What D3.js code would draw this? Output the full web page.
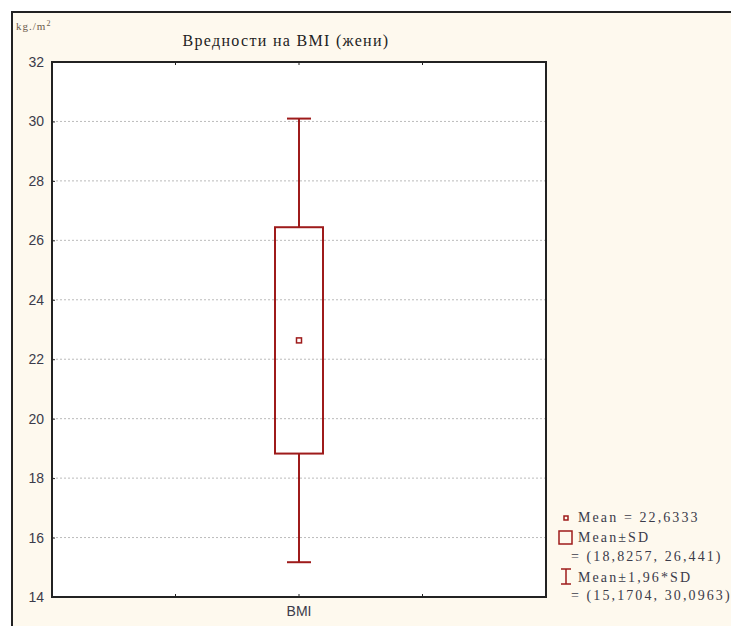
<!DOCTYPE html>
<html lang="bg">
<head>
  <meta charset="UTF-8">
  <title>Вредности на BMI (жени)</title>
  <script src="https://d3js.org/d3.v7.min.js"></script>
  <style>
    body { margin: 0; background: #fff; overflow: hidden; }
    svg { display: block; }
    .grid-line { stroke: #bbb; stroke-width: 1; stroke-dasharray: 2,2; }
  </style>
</head>
<body>
<script>
  // Data
  const categories = ['BMI'];
  const mean = [22.6333];
  const sdLow = [18.8257];
  const sdHigh = [26.441];
  const ciLow = [15.1704];
  const ciHigh = [30.0963];
  const yTicks = [14, 16, 18, 20, 22, 24, 26, 28, 30, 32];

  const W = 731, H = 626;
  const plot = {left: 52, right: 546, top: 62, bottom: 597};
  const red = '#9e1b1b';
  const textCol = '#3b3b4a';

  const svg = d3.select('body').append('svg')
    .attr('width', W)
    .attr('height', H);

  // outer panel: only top and left edges are inside the picture
  svg.append('rect')
    .attr('x', 12).attr('y', 12)
    .attr('width', W - 12).attr('height', H - 12)
    .attr('fill', '#fef9ee');
  svg.append('path')
    .attr('d', `M12,${H}V12H${W}`)
    .attr('fill', 'none')
    .attr('stroke', '#222').attr('stroke-width', 2);

  const y = d3.scaleLinear().domain([14, 32]).range([plot.bottom, plot.top]);
  const x = d3.scaleBand().domain(categories).range([plot.left, plot.right]);

  svg.append('rect')
    .attr('x', plot.left).attr('y', plot.top)
    .attr('width', plot.right - plot.left).attr('height', plot.bottom - plot.top)
    .attr('fill', '#fff');

  // grid lines
  svg.selectAll('.grid-line')
    .data(yTicks.filter(d => d > 14 && d < 32))
    .join('line')
    .attr('class', 'grid-line')
    .attr('x1', plot.left).attr('x2', plot.right)
    .attr('y1', d => y(d)).attr('y2', d => y(d));

  // y axis
  const yAxis = svg.append('g')
    .attr('transform', `translate(${plot.left},0)`)
    .call(d3.axisLeft(y).tickValues(yTicks).tickSize(-3).tickPadding(8));
  yAxis.select('.domain').remove();
  yAxis.selectAll('.tick line').attr('stroke', '#222');
  yAxis.selectAll('text')
    .attr('fill', textCol)
    .style('font', '14px Arial, "Liberation Sans", sans-serif');

  // x axis ticks (quarters)
  const xq = d3.scaleLinear().domain([0, 4]).range([plot.left, plot.right]);
  [1, 2, 3].forEach(q => {
    svg.append('line')
      .attr('x1', xq(q)).attr('x2', xq(q))
      .attr('y1', plot.bottom).attr('y2', plot.bottom - 3)
      .attr('stroke', '#222');
    svg.append('line')
      .attr('x1', xq(q)).attr('x2', xq(q))
      .attr('y1', plot.top).attr('y2', plot.top + 3)
      .attr('stroke', '#222');
  });

  svg.append('text')
    .attr('x', x('BMI') + x.bandwidth() / 2)
    .attr('y', plot.bottom + 19)
    .attr('text-anchor', 'middle')
    .attr('fill', textCol)
    .style('font', '14px Arial, "Liberation Sans", sans-serif')
    .text('BMI');

  // plot frame
  svg.append('rect')
    .attr('x', plot.left).attr('y', plot.top)
    .attr('width', plot.right - plot.left).attr('height', plot.bottom - plot.top)
    .attr('fill', 'none')
    .attr('stroke', '#222').attr('stroke-width', 2);

  // box plot
  const boxW = 48, capW = 24;
  categories.forEach((c, i) => {
    const cx = x(c) + x.bandwidth() / 2;
    const g = svg.append('g').attr('stroke', red).attr('stroke-width', 2).attr('fill', 'none');
    g.append('line').attr('x1', cx).attr('x2', cx).attr('y1', y(ciHigh[i])).attr('y2', y(sdHigh[i]));
    g.append('line').attr('x1', cx).attr('x2', cx).attr('y1', y(sdLow[i])).attr('y2', y(ciLow[i]));
    g.append('line').attr('x1', cx - capW / 2).attr('x2', cx + capW / 2).attr('y1', y(ciHigh[i])).attr('y2', y(ciHigh[i]));
    g.append('line').attr('x1', cx - capW / 2).attr('x2', cx + capW / 2).attr('y1', y(ciLow[i])).attr('y2', y(ciLow[i]));
    g.append('rect')
      .attr('x', cx - boxW / 2).attr('y', y(sdHigh[i]))
      .attr('width', boxW).attr('height', y(sdLow[i]) - y(sdHigh[i]));
    g.append('rect')
      .attr('x', cx - 2.5).attr('y', y(mean[i]) - 2.5)
      .attr('width', 5).attr('height', 5).attr('stroke-width', 1.5);
  });

  // title and unit
  svg.append('text')
    .attr('x', 286).attr('y', 46)
    .attr('text-anchor', 'middle')
    .attr('fill', '#222')
    .style('font', '16px "Liberation Serif", "DejaVu Serif", serif')
    .style('letter-spacing', '1.3px')
    .text('Вредности на BMI (жени)');

  const unit = svg.append('text')
    .attr('x', 16).attr('y', 30)
    .attr('fill', '#6b5a4a')
    .style('font', '11px "Liberation Serif", serif')
    .style('letter-spacing', '1px');
  unit.append('tspan').text('kg./m');
  unit.append('tspan').attr('dy', -4).style('font-size', '8px').text('2');

  // legend
  const lg = svg.append('g');
  lg.append('rect').attr('x', 564).attr('y', 516).attr('width', 4).attr('height', 4)
    .attr('fill', 'none').attr('stroke', red).attr('stroke-width', 1.5);
  lg.append('rect').attr('x', 559).attr('y', 531).attr('width', 13).attr('height', 13)
    .attr('fill', 'none').attr('stroke', red).attr('stroke-width', 1.5);
  lg.append('line').attr('x1', 566).attr('x2', 566).attr('y1', 569).attr('y2', 584)
    .attr('stroke', red).attr('stroke-width', 1.5);
  lg.append('line').attr('x1', 561).attr('x2', 571).attr('y1', 569).attr('y2', 569)
    .attr('stroke', red).attr('stroke-width', 1.5);
  lg.append('line').attr('x1', 561).attr('x2', 571).attr('y1', 584).attr('y2', 584)
    .attr('stroke', red).attr('stroke-width', 1.5);

  const fmt = v => String(v).replace('.', ',');
  const legendLines = [
    {x: 578, y: 522, t: 'Mean = ' + fmt(mean[0])},
    {x: 578, y: 542, t: 'Mean±SD'},
    {x: 571, y: 561, t: '= (' + fmt(sdLow[0]) + ', ' + fmt(sdHigh[0]) + ')'},
    {x: 578, y: 582, t: 'Mean±1,96*SD'},
    {x: 571, y: 600, t: '= (' + fmt(ciLow[0]) + ', ' + fmt(ciHigh[0]) + ')'}
  ];
  lg.selectAll('text.leg')
    .data(legendLines)
    .join('text')
    .attr('class', 'leg')
    .attr('x', d => d.x).attr('y', d => d.y)
    .attr('fill', textCol)
    .style('font', '14px "Liberation Serif", "DejaVu Serif", serif')
    .style('letter-spacing', '2.1px')
    .text(d => d.t);
</script>
</body>
</html>
